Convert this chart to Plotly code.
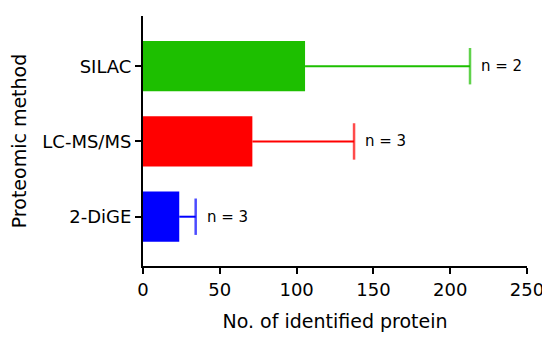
import plotly.graph_objects as go

methods = ["2-DiGE", "LC-MS/MS", "SILAC"]
means = [23.6, 71.2, 105.5]
errors = [10.7, 66.2, 107.4]
n_labels = ["n = 3", "n = 3", "n = 2"]
colors = ["#0000FF", "#FF0000", "#1DBF00"]

FONT = "DejaVu Sans"

fig = go.Figure()
for m, v, c in zip(methods, means, colors):
    fig.add_trace(go.Bar(
        y=[m], x=[v], orientation="h",
        marker=dict(color=c, line=dict(width=0)),
        width=0.667,
        showlegend=False,
    ))
for m, v, e, c in zip(methods, means, errors, colors):
    fig.add_trace(go.Scatter(
        y=[m, m], x=[v, v + e], mode="lines+markers",
        line=dict(color=c, width=2),
        marker=dict(symbol="line-ns", size=[0, 26],
                    line=dict(color=c, width=2.5)),
        showlegend=False, cliponaxis=False,
    ))

for m, v, e, t in zip(methods, means, errors, n_labels):
    fig.add_annotation(x=v + e, y=m, text=t, showarrow=False,
                       xanchor="left", yanchor="middle", xshift=9,
                       font=dict(family=FONT, size=15, color="black"))

# page body adds an 8px offset; margins compensate
fig.update_layout(
    width=550, height=345,
    margin=dict(l=135, r=31, t=8, b=87),
    paper_bgcolor="white", plot_bgcolor="white",
    font=dict(family=FONT, size=18, color="black"),
    bargap=0.333,
)
fig.update_xaxes(
    range=[0, 250], tickvals=[0, 50, 100, 150, 200, 250],
    showgrid=False, zeroline=False, automargin=False,
    showline=True, linecolor="black", linewidth=2,
    ticks="outside", ticklen=6, tickwidth=2, tickcolor="black",
    title=dict(text="No. of identified protein", standoff=16,
               font=dict(family=FONT, size=19)),
    tickfont=dict(family=FONT, size=18),
)
fig.update_yaxes(
    categoryorder="array", categoryarray=methods,
    range=[-0.655, 2.667],
    showgrid=False, zeroline=False, automargin=False,
    showline=True, linecolor="black", linewidth=2,
    ticks="outside", ticklen=6, tickwidth=2, tickcolor="black",
    title=dict(text="Proteomic method", standoff=12,
               font=dict(family=FONT, size=19)),
    tickfont=dict(family=FONT, size=18),
)

fig.write_html("out.html")
